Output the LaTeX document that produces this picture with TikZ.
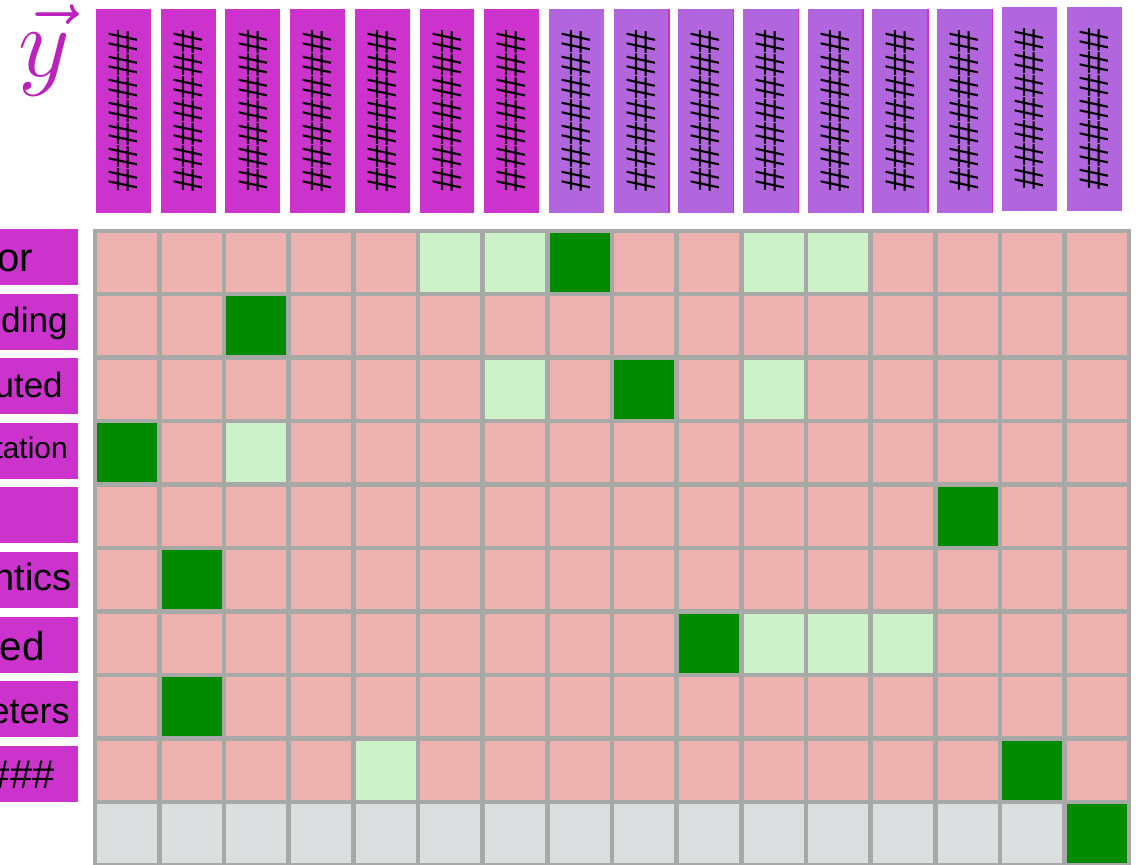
\documentclass[tikz,border=0pt]{standalone}
\usepackage{fontspec}
\newfontfamily\labelfont{Liberation Sans}
\definecolor{hdrmag}{HTML}{CC33CC}
\definecolor{hdrlav}{HTML}{B266DD}
\definecolor{vecmag}{HTML}{BB22BB}
\definecolor{cellpink}{HTML}{EDB2AF}
\definecolor{cellmint}{HTML}{CCF0C8}
\definecolor{cellgreen}{HTML}{008B00}
\definecolor{cellgray}{HTML}{DCDDDF}
\definecolor{gridgray}{HTML}{A7A9A7}
\newcommand{\lsize}[1]{\labelfont\fontsize{#1}{#1}\selectfont}
\begin{document}
\begin{tikzpicture}[
    x=0.02cm, y=-0.02cm,
    header/.style={
      rotate=90,
      minimum width=4.08cm,
      minimum height=1.1cm,
      inner sep=0pt,
      font=\lsize{23.6}
    },
    rowbox/.style={
      fill=hdrmag,
      anchor=east,
      minimum width=1.8cm,
      minimum height=1.12cm,
      inner sep=0pt
    },
    rowtext/.style={anchor=base east, inner sep=0pt},
    cell/.style={
      minimum width=1.2cm,
      minimum height=1.18cm,
      inner sep=0pt,
      outer sep=0pt
    }
  ]
  \clip (0,0) rectangle (1140,865);

  % target vector
  \node[text=vecmag, font=\Huge, scale=2.3, inner sep=0pt, anchor=base] (yvec) at (44,77) {$\vec{y}$};

  % column headers
  \foreach \i in {1,...,7}
    \node[header, fill=hdrmag] (h\i) at (123.5+\i*64.7-64.7,111) {\#\#\#\#\#\#\#};
  \foreach \i in {8,...,14}
    \node[header, fill=hdrlav] (h\i) at (123.5+\i*64.7-64.7,111) {\#\#\#\#\#\#\#};
  \foreach \i in {15,16}
    \node[header, fill=hdrlav] (h\i) at (123.5+\i*64.7-64.7,109) {\#\#\#\#\#\#\#};
  \foreach \i in {9,...,14}
    \draw[hdrmag, line width=0.03cm] (h\i.south west) -- (h\i.south east);

  % row labels
  \foreach \r in {1,...,9}
    \node[rowbox] (b\r) at (78,257+\r*64.6-64.6) {};
  \node[rowtext, font=\lsize{22.8}] (t1) at (33,271) {or};
  \node[rowtext, font=\lsize{20}] (t2) at (68,332) {ding};
  \node[rowtext, font=\lsize{19.9}] (t3) at (63,397) {uted};
  \node[rowtext, font=\lsize{17}] (t4) at (68,458) {tation};
  \node[rowtext, font=\lsize{21.6}] (t6) at (72,590) {ntics};
  \node[rowtext, font=\lsize{23}] (t7) at (45,660) {ed};
  \node[rowtext, font=\lsize{20.5}] (t8) at (70,723) {eters};
  \node[rowtext, font=\lsize{22.8}] (t9) at (55,788) {\#\#\#};

  % grid
  \fill[gridgray] (93,229) rectangle (1131,870);
  \foreach \r in {1,...,9}
    \foreach \c in {1,...,16}
      \node[cell, fill=cellpink] (c-\r-\c) at (127+\c*64.67-64.67,262.5+\r*63.44-63.44) {};
  \foreach \c in {1,...,16}
    \node[cell, fill=cellgray] (c-10-\c) at (127+\c*64.67-64.67,833.5) {};

  % near matches
  \foreach \r/\c in {1/6,1/7,1/11,1/12,3/7,3/11,4/3,7/11,7/12,7/13,9/5}
    \fill[cellmint] (c-\r-\c.north west) rectangle (c-\r-\c.south east);
  % exact matches
  \foreach \r/\c in {1/8,2/3,3/9,4/1,5/14,6/2,7/10,8/2,9/15,10/16}
    \fill[cellgreen] (c-\r-\c.north west) rectangle (c-\r-\c.south east);
\end{tikzpicture}
\end{document}
